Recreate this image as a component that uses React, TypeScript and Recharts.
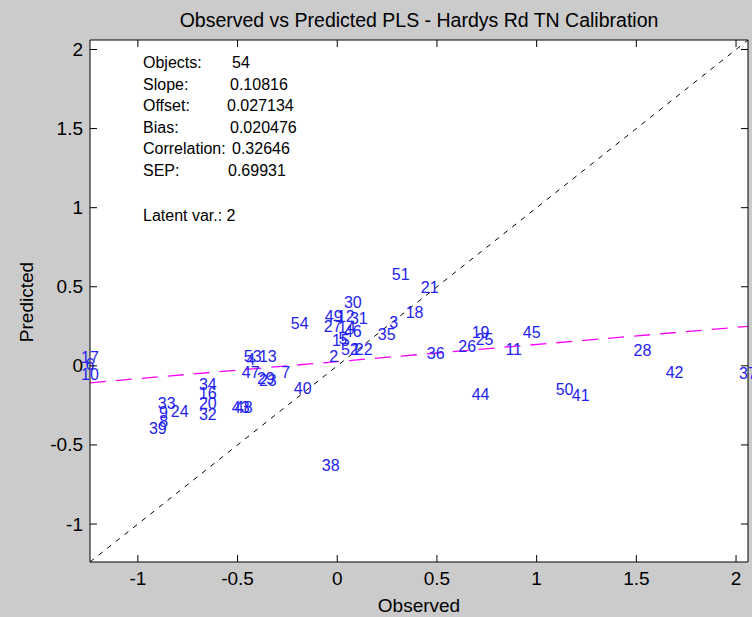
import React from 'react';
import { ScatterChart, Scatter, XAxis, YAxis, ReferenceLine, CartesianGrid } from 'recharts';

// ---- data ----
const sampleIds = [
  1, 2, 3, 4, 5, 6, 7, 8, 9, 10,
  11, 12, 13, 14, 15, 16, 17, 18, 19, 20,
  21, 22, 23, 24, 25, 26, 27, 28, 29, 30,
  31, 32, 33, 34, 35, 36, 37, 38, 39, 40,
  41, 42, 43, 44, 45, 46, 47, 48, 49, 50,
  51, 52, 53, 54,
];
const observed = [
  0.093, -0.018, 0.283, -0.434, 0.028, -1.24, -0.258, -0.87, -0.871, -1.24,
  0.885, 0.043, -0.348, 0.048, 0.018, -0.649, -1.24, 0.388, 0.719, -0.649,
  0.464, 0.133, -0.348, -0.79, 0.739, 0.652, -0.023, 1.531, -0.358, 0.078,
  0.108, -0.649, -0.855, -0.649, 0.248, 0.494, 2.06, -0.033, -0.9, -0.173,
  1.221, 1.692, -0.484, 0.719, 0.975, 0.078, -0.434, -0.469, -0.018, 1.14,
  0.318, 0.063, -0.424, -0.188,
];
const predicted = [
  0.103, 0.059, 0.271, 0.04, 0.173, 0.008, -0.042, -0.351, -0.294, -0.055,
  0.103, 0.312, 0.059, 0.243, 0.16, -0.176, 0.053, 0.335, 0.208, -0.236,
  0.496, 0.103, -0.094, -0.29, 0.167, 0.122, 0.249, 0.097, -0.081, 0.398,
  0.3, -0.309, -0.239, -0.119, 0.198, 0.081, -0.049, -0.629, -0.399, -0.144,
  -0.188, -0.04, -0.264, -0.179, 0.208, 0.217, -0.042, -0.264, 0.312, -0.147,
  0.578, 0.103, 0.059, 0.268,
];
const xTicks = [-1, -0.5, 0, 0.5, 1, 1.5, 2];
const yTicks = [-1, -0.5, 0, 0.5, 1, 1.5, 2];
const axisMin = -1.24;
const axisMax = 2.06;
const regressionSlope = 0.10816;
const regressionOffset = 0.027134;
const statLabels = ['Objects:', 'Slope:', 'Offset:', 'Bias:', 'Correlation:', 'SEP:'];
const statValues = ['54', '0.10816', '0.027134', '0.020476', '0.32646', '0.69931'];
const latentText = 'Latent var.: 2';
const titleText = 'Observed vs Predicted PLS - Hardys Rd TN Calibration';
const xLabelText = 'Observed';
const yLabelText = 'Predicted';

const points = sampleIds.map((id, i) => ({ id, x: observed[i], y: predicted[i] }));
const diagonal = [
  { x: axisMin, y: axisMin },
  { x: axisMax, y: axisMax },
];
const fitLine = [
  { x: axisMin, y: regressionSlope * axisMin + regressionOffset },
  { x: axisMax, y: regressionSlope * axisMax + regressionOffset },
];

// ---- layout ----
const W = 752;
const H = 617;
const FONT = "'Liberation Sans', Arial, Helvetica, sans-serif";
const TICK_LEN = 7;
const statValueX = [232, 230, 227, 230, 232, 228];

const fmt = (v: number) => String(v);

const BottomTick = (props: any) => {
  const { x, y, payload } = props;
  return (
    <g>
      <line x1={x} y1={y} x2={x} y2={y - TICK_LEN} stroke="#000" strokeWidth={1} />
      <text x={x} y={y + 16} textAnchor="middle" dominantBaseline="central" fontFamily={FONT} fontSize={19} fill="#000">
        {fmt(payload.value)}
      </text>
    </g>
  );
};
const TopTick = (props: any) => {
  const { x, y } = props;
  return <line x1={x} y1={y} x2={x} y2={y + TICK_LEN} stroke="#000" strokeWidth={1} />;
};
const LeftTick = (props: any) => {
  const { x, y, payload } = props;
  return (
    <g>
      <line x1={x} y1={y} x2={x + TICK_LEN} y2={y} stroke="#000" strokeWidth={1} />
      <text x={x - 7} y={y} textAnchor="end" dominantBaseline="central" fontFamily={FONT} fontSize={19} fill="#000">
        {fmt(payload.value)}
      </text>
    </g>
  );
};
const RightTick = (props: any) => {
  const { x, y } = props;
  return <line x1={x} y1={y} x2={x - TICK_LEN} y2={y} stroke="#000" strokeWidth={1} />;
};

const LabelShape = (props: any) => {
  const { cx, cy, payload } = props;
  return (
    <text x={cx} y={cy} textAnchor="middle" dominantBaseline="central" fontFamily={FONT} fontSize={16} fill="#2323f0">
      {payload.id}
    </text>
  );
};

export default function App() {
  return (
    <div style={{ position: 'absolute', left: 0, top: 0, width: W, height: H, background: '#cbcbcb', overflow: 'hidden' }}>
      <ScatterChart width={W} height={H} margin={{ top: 0, right: 0, bottom: 0, left: 0 }} style={{ overflow: 'visible' }}>
        <CartesianGrid horizontal={false} vertical={false} fill="#ffffff" fillOpacity={1} stroke="none" />
        <XAxis
          xAxisId="bottom"
          type="number"
          dataKey="x"
          orientation="bottom"
          domain={[axisMin, axisMax]}
          ticks={xTicks}
          height={55}
          tickSize={0}
          tickMargin={0}
          tickLine={false}
          axisLine={{ stroke: '#000', strokeWidth: 1 }}
          tick={<BottomTick />}
          interval={0}
        />
        <XAxis
          xAxisId="top"
          type="number"
          dataKey="x"
          orientation="top"
          domain={[axisMin, axisMax]}
          ticks={xTicks}
          height={40}
          tickSize={0}
          tickMargin={0}
          tickLine={false}
          axisLine={{ stroke: '#000', strokeWidth: 1 }}
          tick={<TopTick />}
          interval={0}
        />
        <YAxis
          yAxisId="left"
          type="number"
          dataKey="y"
          orientation="left"
          domain={[axisMin, axisMax]}
          ticks={yTicks}
          width={90}
          tickSize={0}
          tickMargin={0}
          tickLine={false}
          axisLine={{ stroke: '#000', strokeWidth: 1 }}
          tick={<LeftTick />}
          interval={0}
        />
        <YAxis
          yAxisId="right"
          type="number"
          dataKey="y"
          orientation="right"
          domain={[axisMin, axisMax]}
          ticks={yTicks}
          width={4}
          tickSize={0}
          tickMargin={0}
          tickLine={false}
          axisLine={{ stroke: '#000', strokeWidth: 1 }}
          tick={<RightTick />}
          interval={0}
        />
        <ReferenceLine
          xAxisId="bottom"
          yAxisId="left"
          segment={diagonal}
          stroke="#000"
          strokeWidth={1}
          strokeDasharray="5 6"
          ifOverflow="visible"
        />
        <ReferenceLine
          xAxisId="bottom"
          yAxisId="left"
          segment={fitLine}
          stroke="#ff00ff"
          strokeWidth={1.3}
          strokeDasharray="16 10"
          ifOverflow="visible"
        />
        <Scatter
          xAxisId="bottom"
          yAxisId="left"
          data={points}
          shape={<LabelShape />}
          isAnimationActive={false}
        />
        <Scatter xAxisId="top" yAxisId="right" data={points} shape={() => <g />} isAnimationActive={false} />
      </ScatterChart>
      <svg width={W} height={H} style={{ position: 'absolute', left: 0, top: 0, pointerEvents: 'none' }}>
        <text x={419} y={20} textAnchor="middle" dominantBaseline="central" fontFamily={FONT} fontSize={19.5} fill="#000">
          {titleText}
        </text>
        <text x={419} y={605} textAnchor="middle" dominantBaseline="central" fontFamily={FONT} fontSize={19} fill="#000">
          {xLabelText}
        </text>
        <text
          x={26}
          y={302}
          textAnchor="middle"
          dominantBaseline="central"
          fontFamily={FONT}
          fontSize={19}
          fill="#000"
          transform="rotate(-90 26 302)"
        >
          {yLabelText}
        </text>
        {statLabels.map((lab, i) => (
          <g key={lab}>
            <text x={143} y={62.5 + i * 21.6} dominantBaseline="central" fontFamily={FONT} fontSize={16} fill="#000">
              {lab}
            </text>
            <text x={statValueX[i]} y={62.5 + i * 21.6} dominantBaseline="central" fontFamily={FONT} fontSize={16} fill="#000">
              {statValues[i]}
            </text>
          </g>
        ))}
        <text x={143} y={215} dominantBaseline="central" fontFamily={FONT} fontSize={16} fill="#000">
          {latentText}
        </text>
      </svg>
    </div>
  );
}
